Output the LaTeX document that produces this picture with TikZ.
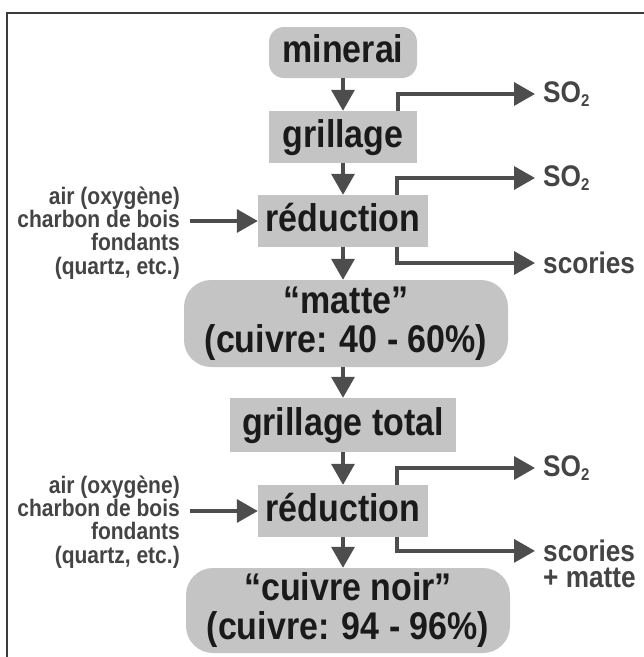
\documentclass[tikz,border=0pt]{standalone}
\usepackage{fontspec}
\setmainfont{Liberation Sans}[FakeStretch=0.88]
\usetikzlibrary{arrows.meta}
\definecolor{boxgray}{RGB}{196,196,196}
\definecolor{flowgray}{RGB}{77,77,77}
\definecolor{labelgray}{RGB}{68,68,68}
\definecolor{textblack}{RGB}{26,26,26}
\definecolor{framegray}{RGB}{60,60,60}
\newcommand{\subtwo}{\raisebox{-0.3ex}{\fontsize{17}{17}\selectfont 2}}

\begin{document}
\begin{tikzpicture}[x=1pt,y=-1pt,
    stage/.style={fill=boxgray,text=textblack,font=\fontsize{38.6}{39}\selectfont\bfseries,inner sep=0pt,text height=28pt,text depth=8pt,minimum height=52pt},
    product/.style={fill=boxgray,text=textblack,font=\fontsize{38.6}{39}\selectfont\bfseries,inner sep=0pt,align=center,rounded corners=27pt},
    flow/.style={draw=flowgray,line width=3.5pt,-{Triangle[length=21pt,width=23pt]}},
    outlbl/.style={text=labelgray,font=\fontsize{29.8}{25.5}\selectfont\bfseries,inner xsep=8pt,inner ysep=0pt,anchor=west},
    inlbl/.style={text=labelgray,font=\fontsize{23.9}{23.3}\selectfont\bfseries,inner sep=0pt,align=right,anchor=east}]
    \useasboundingbox (0,0) rectangle (644,657);
    \draw[framegray,line width=2pt] (7,657) -- (7,13) -- (644,13);

    \node[stage,rounded corners=15pt,minimum width=148pt,minimum height=51pt] (minerai) at (343,52.5) {minerai};
    \node[stage,minimum width=148pt] (grill) at (343,137) {grillage};
    \node[stage,minimum width=170pt] (reduc1) at (343,221) {réduction};
    \node[product,minimum width=324pt,minimum height=87pt] (matte) at (346,323.5) {“matte”\\(cuivre: 40 - 60\%)};
    \node[stage,minimum width=226pt,minimum height=54pt] (grilltot) at (343,425) {grillage total};
    \node[stage,minimum width=170pt] (reduc2) at (343,511) {réduction};
    \node[product,minimum width=324pt,minimum height=85pt] (noir) at (348,610.5) {“cuivre noir”\\(cuivre: 94 - 96\%)};

    \node[inlbl] (feed1) at (180,232.8) {air (oxygène)\\charbon de bois\\fondants\\(quartz, etc.)};
    \node[inlbl] (feed2) at (180,522) {air (oxygène)\\charbon de bois\\fondants\\(quartz, etc.)};

    \node[outlbl] (so2a) at (535,94) {SO\subtwo};
    \node[outlbl] (so2b) at (535,178) {SO\subtwo};
    \node[outlbl] (scor1) at (535,263) {scories};
    \node[outlbl] (so2c) at (535,468) {SO\subtwo};
    \node[outlbl,anchor=north west,align=left] (scor2) at (535,540) {scories\\+ matte};

    \draw[flow] (minerai) -- (grill);
    \draw[flow] (grill) -- (reduc1);
    \draw[flow] (reduc1) -- (reduc1 |- matte.north);
    \draw[flow] (matte.south -| grilltot) -- (grilltot);
    \draw[flow] (grilltot) -- (reduc2);
    \draw[flow] (reduc2) -- (reduc2 |- noir.north);

    \draw[flow] ([xshift=55pt]grill.north) |- (so2a.west);
    \draw[flow] ([xshift=54pt]reduc1.north) |- (so2b.west);
    \draw[flow] ([xshift=54pt]reduc1.south) |- (scor1.west);
    \draw[flow] ([xshift=54pt]reduc2.north) |- (so2c.west);
    \draw[flow] ([xshift=54pt]reduc2.south) |- ([yshift=-10.9pt]scor2.north west);

    \draw[flow] ([xshift=10pt]feed1.east |- reduc1.west) -- (reduc1.west);
    \draw[flow] ([xshift=10pt]feed2.east |- reduc2.west) -- (reduc2.west);
\end{tikzpicture}
\end{document}
